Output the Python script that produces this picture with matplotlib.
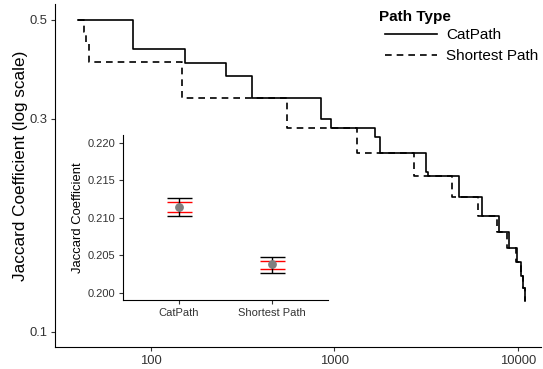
import numpy as np
import matplotlib
matplotlib.use("Agg")
import matplotlib.pyplot as plt

plt.rcParams['font.family'] = ['Liberation Sans', 'DejaVu Sans']

# step curves: value holds from x onward
cat_x = [40, 80, 153, 256, 355, 844, 957, 1663, 1770, 3152, 3221, 4787, 6390,
         7881, 8968, 9838, 10345, 10690, 10920]
cat_y = [0.5, 0.430, 0.401, 0.375, 0.334, 0.300, 0.286, 0.273, 0.251, 0.228,
         0.223, 0.200, 0.182, 0.167, 0.154, 0.143, 0.1335, 0.1253, 0.1169]
sp_x = [40, 43.2, 44.3, 45.9, 148, 549, 1321, 2711, 4352, 6076, 7655, 8745,
        9750, 10345, 10690, 10920]
sp_y = [0.5, 0.471, 0.444, 0.402, 0.334, 0.286, 0.251, 0.223, 0.200, 0.182,
        0.167, 0.154, 0.143, 0.1335, 0.1253, 0.1169]

# inset summary
path_types = ['CatPath', 'Shortest Path']
means = [0.21137, 0.20386]
sd_lo = [0.21023, 0.20266]
sd_hi = [0.21257, 0.20483]
ci_lo = [0.2108, 0.20324]
ci_hi = [0.21203, 0.20430]

tick_col = '#333333'

fig = plt.figure(figsize=(5.43, 3.69), dpi=100)
ax = fig.add_axes([55 / 543, 22 / 369, 486 / 543, 343 / 369])
ax.plot(cat_x, cat_y, drawstyle='steps-post', color='black', lw=1.2,
        label='CatPath')
ax.plot(sp_x, sp_y, drawstyle='steps-post', color='black', lw=1.2,
        dashes=(4, 3), label='Shortest Path')
ax.set_xscale('log')
ax.set_yscale('log')
ax.set_xlim(30, 13350)
ax.set_ylim(0.0924, 0.543)
ax.set_xticks([100, 1000, 10000])
ax.set_xticklabels(['100', '1000', '10000'])
ax.set_yticks([0.1, 0.3, 0.5])
ax.set_yticklabels(['0.1', '0.3', '0.5'])
ax.minorticks_off()
ax.tick_params(labelsize=9.4, colors=tick_col, length=3, width=0.8,
               labelcolor=tick_col, pad=2.5)
for s in ['top', 'right']:
    ax.spines[s].set_visible(False)
for s in ['left', 'bottom']:
    ax.spines[s].set_linewidth(0.8)
ax.set_ylabel('Jaccard Coefficient (log scale)', fontsize=12.3)
ax.yaxis.set_label_coords(-0.056, 0.528)

fig.text(379 / 543, 1 - 17 / 369, 'Path Type', fontsize=11, weight='bold',
         ha='left', va='center')
ax.legend(loc='upper left', frameon=False,
          bbox_to_anchor=(385 / 543, 1 - 28 / 369),
          bbox_transform=fig.transFigure, fontsize=11,
          handlelength=3.4, handletextpad=0.6, borderpad=0,
          borderaxespad=0, labelspacing=0.45)

# inset
ins = fig.add_axes([123.3 / 543, 68.7 / 369, 204.4 / 543, 165.3 / 369])
xs = np.arange(1, len(path_types) + 1)
for i, x in enumerate(xs):
    ins.errorbar(x, means[i], yerr=[[means[i] - ci_lo[i]], [ci_hi[i] - means[i]]],
                 fmt='none', ecolor='red', capsize=9, elinewidth=1, capthick=1)
    ins.errorbar(x, means[i], yerr=[[means[i] - sd_lo[i]], [sd_hi[i] - means[i]]],
                 fmt='none', ecolor='black', capsize=9, elinewidth=1, capthick=1)
ins.scatter(xs, means, s=28, color='#7f7f7f', zorder=5)
ins.set_xlim(0.4, 2.6)
ins.set_ylim(0.19903, 0.2210)
ins.set_xticks(xs)
ins.set_xticklabels(path_types)
ins.set_yticks([0.200, 0.205, 0.210, 0.215, 0.220])
ins.set_yticklabels(['0.200', '0.205', '0.210', '0.215', '0.220'])
ins.tick_params(labelsize=8, colors=tick_col, length=3, width=0.8,
                labelcolor=tick_col, pad=2.5)
for s in ['top', 'right']:
    ins.spines[s].set_visible(False)
for s in ['left', 'bottom']:
    ins.spines[s].set_linewidth(0.8)
ins.set_ylabel('Jaccard Coefficient', fontsize=9.4, labelpad=3)
ins.patch.set_alpha(0)

fig.savefig('out.png', dpi=100)
